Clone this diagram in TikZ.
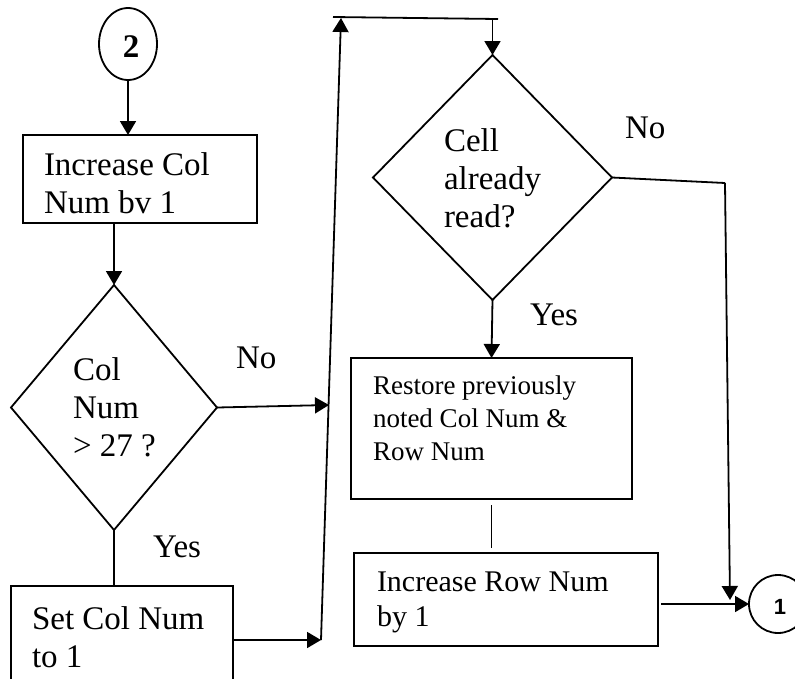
\documentclass[tikz,border=0pt]{standalone}
\usepackage{fontspec}
\setmainfont{Liberation Serif}
\newfontfamily\circfont{Liberation Sans}
\usetikzlibrary{arrows.meta,shapes.geometric}
\begin{document}
\begin{tikzpicture}[x=1pt,y=-1pt,
  every node/.style={outer sep=0pt},
  ln/.style={line width=1.8pt},
  arr/.style={ln,-{Triangle[length=14pt,width=16pt]}},
  boxs/.style={draw,line width=1.8pt,rectangle,inner sep=0pt},
  dia/.style={draw,line width=1.8pt,diamond,inner sep=0pt},
  circ/.style={draw,line width=1.8pt,ellipse,inner sep=0pt,minimum width=58pt},
  txt/.style={anchor=north west,inner sep=0pt,align=left,font=\fontsize{33}{38}\selectfont},
  txts/.style={anchor=north west,inner sep=0pt,align=left,font=\fontsize{27}{33}\selectfont},
  txtm/.style={anchor=north west,inner sep=0pt,align=left,font=\fontsize{30}{35}\selectfont}
]
\useasboundingbox (0,0) rectangle (795,678);

% shapes
\node[circ,minimum height=72pt] (c2) at (128,44) {};
\node[font=\fontsize{33}{38}\selectfont\bfseries,inner sep=0pt] (c2t) at (131,47) {2};
\node[boxs,minimum width=234pt,minimum height=88pt] (b1) at (140,179) {};
\node[dia,minimum width=206pt,minimum height=245pt] (d1) at (114,407.5) {};
\node[boxs,minimum width=222pt,minimum height=96pt] (b2) at (122,634) {};
\node[dia,minimum width=239pt,minimum height=245pt] (d2) at (492.5,177.5) {};
\node[boxs,minimum width=281pt,minimum height=141pt] (b3) at (491.5,428.5) {};
\node[boxs,minimum width=304pt,minimum height=93pt] (b4) at (506,599.5) {};
\node[circ,minimum height=58pt] (c1) at (778,604) {};
\node[font=\fontsize{22}{26}\selectfont\circfont\bfseries,inner sep=0pt] (c1t) at (780,607) {1};

% texts
\node[txt] (t1) at (44,153) {Increase Col\\Num bv 1};
\node[txt] (t2) at (73,358) {Col\\Num\\> 27 ?};
\node[txt] (t3) at (32,607) {Set Col Num\\to 1};
\node[txt] (t4) at (444,129) {Cell\\already\\read?};
\node[txts] (t5) at (373,376) {Restore previously\\noted Col Num \&\\Row Num};
\node[txtm] (t6) at (377,572) {Increase Row Num\\by 1};
\node[txt] (no1) at (236,347) {No};
\node[txt] (yes1) at (153,536) {Yes};
\node[txt] (no2) at (625,117) {No};
\node[txt] (yes2) at (530,304) {Yes};

% junction coordinates
\coordinate (j0) at (321,640);
\coordinate (j1) at (329,405);
\coordinate (jt) at (341,18);
\coordinate (h1) at (333,17);
\coordinate (h2) at (498,19);
\coordinate (k1) at (725,183);
\coordinate (k2) at (730,600);

% connectors
\draw[arr] (c2.south) -- (c2.south |- b1.north);
\draw[arr] (d1.north |- b1.south) -- (d1.north);
\draw[arr] (d1.east) -- (j1);
\draw[ln] (d1.south) -- (d1.south |- b2.north);
\draw[arr] (b2.east |- j0) -- (j0);
\draw[arr] (j0) -- (jt);
\draw[ln] (h1) -- (h2);
\draw[arr] (d2.north |- h2) -- (d2.north);
\draw[ln] (d2.east) -- (k1);
\draw[arr] (k1) -- (k2);
\draw[arr] (d2.south) -- (b3.north);
\draw[ln,shorten <=6pt,shorten >=5pt] (b3.south) -- (b3.south |- b4.north);
\draw[arr,shorten <=3pt] (b4.east |- c1.west) -- (c1.west);
\end{tikzpicture}
\end{document}
